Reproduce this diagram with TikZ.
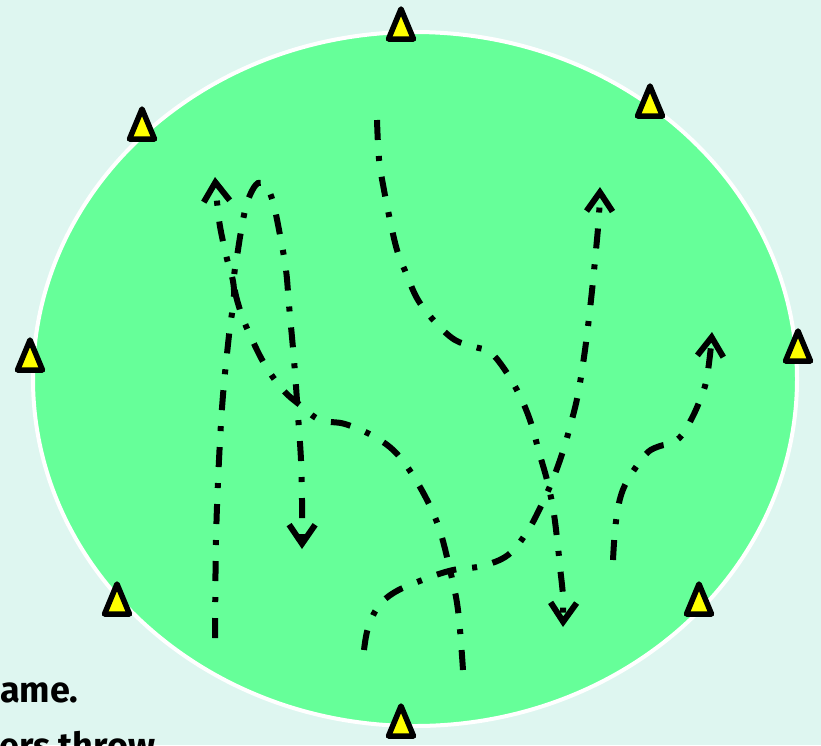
\documentclass[tikz,border=0pt]{standalone}
\usepackage{fontspec}
\setmainfont{Fira Sans}
\usetikzlibrary{arrows.meta,shapes.geometric}
\definecolor{bgmint}{RGB}{222,246,240}
\definecolor{fieldgreen}{RGB}{102,255,153}
\definecolor{coneyellow}{RGB}{255,255,0}
\tikzset{
  trail/.style={line width=6pt, line cap=butt, dash pattern=on 20pt off 16pt on 5pt off 16pt},
  headed/.style={-{Straight Barb[length=19pt,width=26pt,line width=6pt]}},
  cone/.pic={\draw[fill=coneyellow, line width=5.5pt, line join=round] (0,-16) -- (12.5,14) -- (-12.5,14) -- cycle;},
  txt/.style={font=\bfseries\fontsize{36}{40}\selectfont, inner sep=0pt, anchor=base west}
}
\begin{document}
\begin{tikzpicture}[x=1pt,y=-1pt]
\useasboundingbox (0,0) rectangle (821,745);
\clip (0,0) rectangle (821,745);
\fill[bgmint] (0,0) rectangle (821,745);
\node[txt] (line1) at (0,702) {ame.};
\node[txt] (line2) at (-1,758) {ers throw};
\node[ellipse, fill=fieldgreen, draw=white, line width=4pt, minimum width=764pt, minimum height=694pt, inner sep=0pt] (field) at (415,379) {};
% cones
\pic at (401,25) {cone};
\pic at (142,125) {cone};
\pic at (650,102) {cone};
\pic at (30,356) {cone};
\pic at (798,347) {cone};
\pic at (117,600) {cone};
\pic at (699,600) {cone};
\pic at (401,722) {cone};
% trail end points
\coordinate (a1) at (215,638); \coordinate (b1) at (215,177);
\coordinate (a2) at (463,670); \coordinate (b2) at (302,549);
\coordinate (a3) at (377,120); \coordinate (b3) at (563,627);
\coordinate (a4) at (364,650); \coordinate (b4) at (600,187);
\coordinate (a5) at (613,560); \coordinate (b5) at (712,332);
\draw[trail,headed] plot[smooth,tension=0.6] coordinates {(a1) (216,540) (219,460) (223,395) (229,335) (234,290) (226,255) (219,220) (b1)};
\draw[trail,headed] plot[smooth,tension=0.6] coordinates {(a2) (458,610) (450,570) (438,525) (420,487) (398,455) (375,437) (345,424) (320,420) (300,405) (283,390) (265,365) (250,335) (240,310) (234,282) (238,250) (244,215) (250,195) (258,183) (266,186) (273,202) (280,235) (286,270) (289,305) (294,360) (298,415) (301,460) (302,500) (b2)};
\draw[trail,headed] plot[smooth,tension=0.6] coordinates {(a3) (379,159) (384,190) (390,220) (397,250) (406,273) (418,300) (436,323) (455,340) (475,347) (490,352) (505,370) (520,396) (531,423) (539,452) (547,480) (553,508) (557,538) (560,567) (563,597) (b3)};
\draw[trail,headed] plot[smooth,tension=0.6] coordinates {(a4) (368,628) (378,607) (395,592) (425,579) (453,570) (482,566) (508,555) (527,532) (541,506) (553,479) (563,451) (571,423) (578,394) (585,350) (591,300) (596,250) (599,215) (b4)};
\draw[trail,headed] plot[smooth,tension=0.6] coordinates {(a5) (615,530) (619,503) (625,485) (636,467) (648,452) (660,446) (672,443) (682,435) (692,418) (700,400) (706,382) (710,355) (b5)};
\end{tikzpicture}
\end{document}
